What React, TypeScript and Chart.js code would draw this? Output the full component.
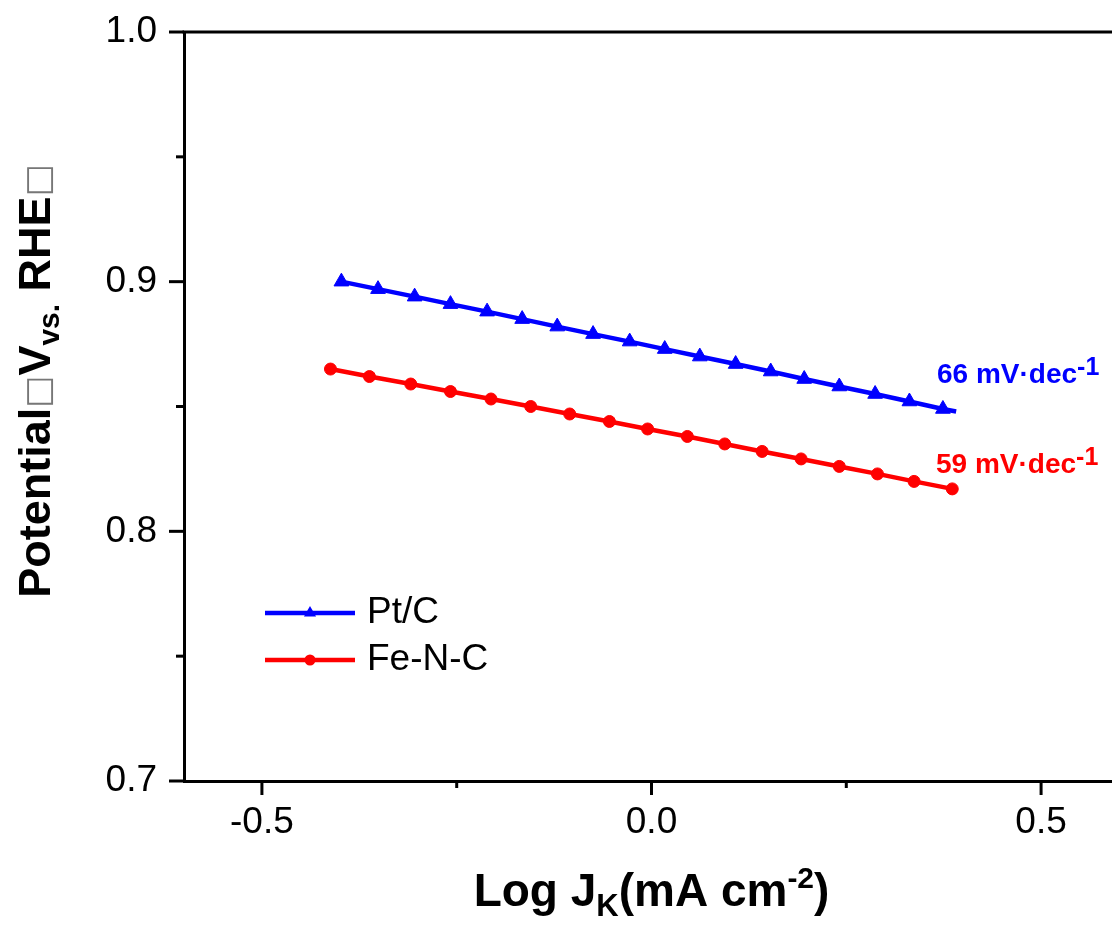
import React, { useEffect, useRef } from 'react';
import { Chart, registerables } from 'chart.js';
Chart.register(...registerables);

const ptcX = [-0.398, -0.351, -0.304, -0.258, -0.211, -0.166, -0.121, -0.075, -0.028, 0.017, 0.062, 0.108, 0.153, 0.196, 0.241, 0.287, 0.331, 0.374, 0.391];
const ptcY = [0.900, 0.897, 0.894, 0.891, 0.888, 0.885, 0.882, 0.879, 0.876, 0.873, 0.870, 0.867, 0.864, 0.861, 0.858, 0.855, 0.852, 0.849, 0.848];
const fencX = [-0.412, -0.362, -0.309, -0.258, -0.206, -0.155, -0.105, -0.054, -0.005, 0.046, 0.094, 0.142, 0.192, 0.241, 0.290, 0.337, 0.386];
const fencY = [0.865, 0.862, 0.859, 0.856, 0.853, 0.850, 0.847, 0.844, 0.841, 0.838, 0.835, 0.832, 0.829, 0.826, 0.823, 0.820, 0.817];

const xMajor = [-0.5, 0, 0.5];
const xMinor = [-0.25, 0.25];
const yMajor = [0.7, 0.8, 0.9, 1.0];
const yMinor = [0.75, 0.85, 0.95];

const seriesNames = ['Pt/C', 'Fe-N-C'];
const slopeLabels = ['66 mV·dec', '59 mV·dec'];

const BLUE = '#0000FF';
const RED = '#FF0000';
const FONT = "'Liberation Sans', Arial, Helvetica, sans-serif";

type Part = { t: string; size: number; dy: number; bold?: boolean; family?: string; color?: string };

function drawRich(ctx: CanvasRenderingContext2D, parts: Part[], x: number, y: number, align: 'left' | 'center', color: string) {
  let total = 0;
  const widths = parts.map((p) => {
    ctx.font = `${p.bold === false ? '' : 'bold '}${p.size}px ${p.family || FONT}`;
    const w = ctx.measureText(p.t).width;
    total += w;
    return w;
  });
  let cx = align === 'center' ? x - total / 2 : x;
  ctx.textAlign = 'left';
  ctx.textBaseline = 'alphabetic';
  parts.forEach((p, i) => {
    ctx.font = `${p.bold === false ? '' : 'bold '}${p.size}px ${p.family || FONT}`;
    ctx.fillStyle = p.color || color;
    ctx.fillText(p.t, cx, y + p.dy);
    cx += widths[i];
  });
}

const decor = {
  id: 'decor',
  afterDraw(chart: any) {
    const ctx: CanvasRenderingContext2D = chart.ctx;
    const xs = chart.scales.x;
    const ys = chart.scales.y;
    const { left, right, top, bottom } = chart.chartArea;
    ctx.save();
    ctx.strokeStyle = '#000';
    ctx.lineWidth = 3;
    ctx.lineCap = 'butt';
    ctx.beginPath();
    ctx.moveTo(left - 1.5, top);
    ctx.lineTo(right, top);
    ctx.stroke();
    const tick = (x1: number, y1: number, x2: number, y2: number) => {
      ctx.beginPath();
      ctx.moveTo(x1, y1);
      ctx.lineTo(x2, y2);
      ctx.stroke();
    };
    yMajor.forEach((v) => { const p = ys.getPixelForValue(v); tick(left - 15, p, left, p); });
    yMinor.forEach((v) => { const p = ys.getPixelForValue(v); tick(left - 8, p, left, p); });
    xMajor.forEach((v) => { const p = xs.getPixelForValue(v); tick(p, bottom, p, bottom + 14); });
    xMinor.forEach((v) => { const p = xs.getPixelForValue(v); tick(p, bottom, p, bottom + 7); });

    // x title
    drawRich(ctx, [
      { t: 'Log J', size: 46, dy: 0 },
      { t: 'K', size: 31, dy: 10 },
      { t: '(mA cm', size: 46, dy: 0 },
      { t: '-2', size: 30, dy: -18 },
      { t: ')', size: 46, dy: 0 },
    ], (left + right) / 2, 906, 'center', '#000');

    // y title
    ctx.save();
    ctx.translate(50, 381);
    ctx.rotate(-Math.PI / 2);
    drawRich(ctx, [
      { t: 'Potential', size: 45, dy: 0 },
      { t: '□', size: 34, dy: -1, bold: false, family: "'DejaVu Sans', sans-serif", color: '#777' },
      { t: 'V', size: 45, dy: 0 },
      { t: 'vs.', size: 30, dy: 9 },
      { t: ' RHE', size: 45, dy: 0 },
      { t: '□', size: 34, dy: -1, bold: false, family: "'DejaVu Sans', sans-serif", color: '#777' },
    ], 0, 0, 'center', '#000');
    ctx.restore();

    // slope annotations
    drawRich(ctx, [
      { t: slopeLabels[0], size: 28, dy: 0 },
      { t: '-1', size: 25, dy: -8 },
    ], 937, 383, 'left', BLUE);
    drawRich(ctx, [
      { t: slopeLabels[1], size: 28, dy: 0 },
      { t: '-1', size: 25, dy: -8 },
    ], 936, 473, 'left', RED);

    // legend
    const legendRows = [
      { y: 613, color: BLUE, name: seriesNames[0], marker: 'tri' },
      { y: 660, color: RED, name: seriesNames[1], marker: 'circ' },
    ];
    legendRows.forEach((r) => {
      ctx.strokeStyle = r.color;
      ctx.fillStyle = r.color;
      ctx.lineWidth = 4.5;
      ctx.beginPath();
      ctx.moveTo(265, r.y);
      ctx.lineTo(355, r.y);
      ctx.stroke();
      ctx.beginPath();
      if (r.marker === 'tri') {
        const rr = 7;
        ctx.moveTo(310, r.y - rr);
        ctx.lineTo(310 + rr * 0.866, r.y + rr * 0.5);
        ctx.lineTo(310 - rr * 0.866, r.y + rr * 0.5);
        ctx.closePath();
      } else {
        ctx.arc(310, r.y, 5.5, 0, Math.PI * 2);
      }
      ctx.fill();
      ctx.fillStyle = '#000';
      ctx.font = `37px ${FONT}`;
      ctx.textAlign = 'left';
      ctx.textBaseline = 'middle';
      ctx.fillText(r.name, 367, r.y);
    });
    ctx.restore();
  },
};

export default function App() {
  const ref = useRef<HTMLCanvasElement | null>(null);
  useEffect(() => {
    if (!ref.current) return;
    const lastP = ptcX.length - 1;
    const chart = new Chart(ref.current, {
      type: 'scatter',
      data: {
        datasets: [
          {
            label: seriesNames[0],
            data: ptcX.map((x, i) => ({ x, y: ptcY[i] })),
            showLine: true,
            borderColor: BLUE,
            backgroundColor: BLUE,
            borderWidth: 4.5,
            pointStyle: 'triangle',
            pointRadius: (c: any) => (c.dataIndex === lastP ? 0 : 8.5),
            pointBorderWidth: 1,
            pointBorderColor: BLUE,
            pointBackgroundColor: BLUE,
          },
          {
            label: seriesNames[1],
            data: fencX.map((x, i) => ({ x, y: fencY[i] })),
            showLine: true,
            borderColor: RED,
            backgroundColor: RED,
            borderWidth: 4.5,
            pointStyle: 'circle',
            pointRadius: 6,
            pointBorderWidth: 1,
            pointBorderColor: RED,
            pointBackgroundColor: RED,
          },
        ],
      },
      options: {
        responsive: false,
        animation: false,
        layout: { padding: { left: 0, top: 32, right: 11, bottom: 0 } },
        plugins: { legend: { display: false }, tooltip: { enabled: false } },
        scales: {
          x: {
            type: 'linear',
            min: -0.6,
            max: 0.6,
            afterBuildTicks: (s: any) => { s.ticks = xMajor.map((v) => ({ value: v })); },
            afterFit: (s: any) => { s.height = 145; s.paddingLeft = 0; s.paddingRight = 0; },
            ticks: {
              color: '#000',
              font: { size: 37, family: FONT },
              padding: 20,
              maxRotation: 0,
              autoSkip: false,
              callback: (v: any) => Number(v).toFixed(1),
            },
            grid: { display: true, drawOnChartArea: false, drawTicks: false },
            border: { display: true, color: '#000', width: 3 },
          },
          y: {
            type: 'linear',
            min: 0.7,
            max: 1.0,
            afterBuildTicks: (s: any) => { s.ticks = yMajor.map((v) => ({ value: v })); },
            afterFit: (s: any) => { s.width = 184; s.paddingTop = 0; s.paddingBottom = 0; },
            ticks: {
              color: '#000',
              font: { size: 37, family: FONT },
              padding: 27,
              autoSkip: false,
              callback: (v: any) => Number(v).toFixed(1),
            },
            grid: { display: true, drawOnChartArea: false, drawTicks: false },
            border: { display: true, color: '#000', width: 3 },
          },
        },
      },
      plugins: [decor],
    });
    return () => chart.destroy();
  }, []);
  return (
    <div style={{ position: 'absolute', left: 0, top: 0, width: 1112, height: 926, overflow: 'hidden', background: '#fff' }}>
      <canvas ref={ref} width={1130} height={926} style={{ display: 'block' }} />
    </div>
  );
}
